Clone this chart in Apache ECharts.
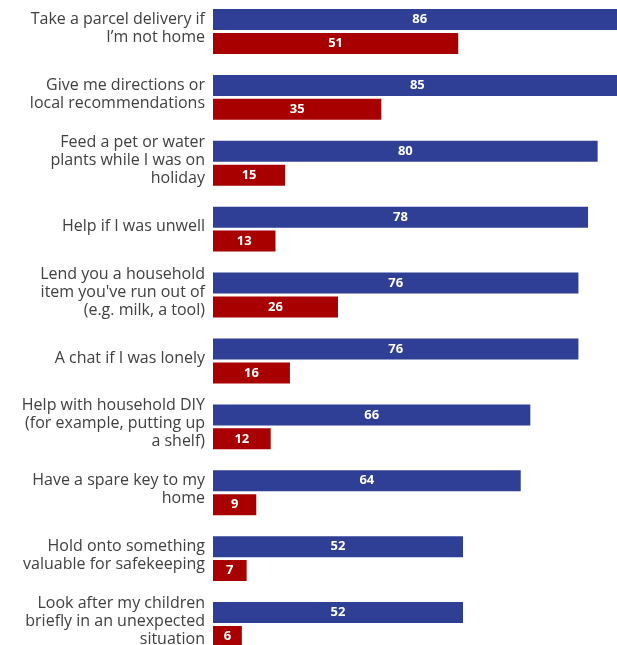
<!DOCTYPE html>
<html>
<head>
<meta charset="utf-8">
<script src="https://cdn.jsdelivr.net/npm/echarts@6/dist/echarts.min.js"></script>
<style>
html,body{margin:0;padding:0;background:#fff;}
#chart{width:617px;height:645px;}
</style>
</head>
<body>
<div id="chart"></div>
<script>
const categories = [
  "Take a parcel delivery if\nI\u2019m not home",
  "Give me directions or\nlocal recommendations",
  "Feed a pet or water\nplants while I was on\nholiday",
  "Help if I was unwell",
  "Lend you a household\nitem you've run out of\n(e.g. milk, a tool)",
  "A chat if I was lonely",
  "Help with household DIY\n(for example, putting up\na shelf)",
  "Have a spare key to my\nhome",
  "Hold onto something\nvaluable for safekeeping",
  "Look after my children\nbriefly in an unexpected\nsituation"
];
const blueValues = [86, 85, 80, 78, 76, 76, 66, 64, 52, 52];
const redValues = [51, 35, 15, 13, 26, 16, 12, 9, 7, 6];

const chart = echarts.init(document.getElementById('chart'), null, {renderer: 'canvas'});
const labelStyle = {
  show: true,
  position: 'inside',
  color: '#fff',
  fontFamily: 'Open Sans',
  fontWeight: 'bold',
  fontSize: 13
};
chart.setOption({
  animation: false,
  grid: {left: 213, top: -1.5, width: 413.5, height: 659, containLabel: false, outerBoundsMode: 'none'},
  xAxis: {
    type: 'value', min: 0, max: 86,
    show: false
  },
  yAxis: {
    type: 'category', inverse: true, data: categories,
    axisLine: {show: false}, axisTick: {show: false},
    axisLabel: {
      margin: 8, color: '#404040', fontFamily: 'Open Sans', fontSize: 16,
      lineHeight: 18, align: 'right',
      formatter: function (v) {
        return v.split('\n').map(function (l) { return '{t|' + l + '}'; }).join('\n') + '\n{s| }';
      },
      rich: {
        t: {color: '#404040', fontFamily: 'Open Sans', fontSize: 16, lineHeight: 18, align: 'right'},
        s: {fontSize: 1, lineHeight: 6, height: 6}
      }
    }
  },
  series: [
    {type: 'bar', data: blueValues, barWidth: 21, barGap: '14%',
     itemStyle: {color: '#2f3f96'}, label: labelStyle},
    {type: 'bar', data: redValues, barWidth: 21,
     itemStyle: {color: '#a80000'}, label: labelStyle}
  ]
});
</script>
</body>
</html>
